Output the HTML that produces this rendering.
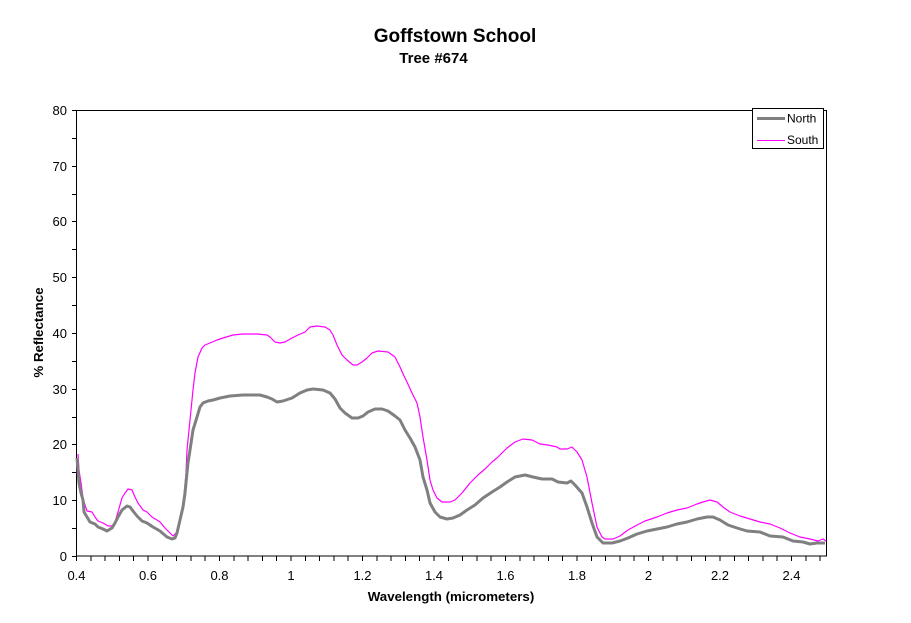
<!DOCTYPE html>
<html>
<head>
<meta charset="utf-8">
<style>
html,body{margin:0;padding:0;background:#fff;}
svg{display:block;}
text{font-family:"Liberation Sans",Arial,sans-serif;fill:#000;}
</style>
</head>
<body>
<svg width="911" height="623" viewBox="0 0 911 623" xmlns="http://www.w3.org/2000/svg">
<rect x="0" y="0" width="911" height="623" fill="#fff"/>
<text x="455" y="42" font-size="19" font-weight="bold" text-anchor="middle">Goffstown School</text>
<text x="433.5" y="63" font-size="15" font-weight="bold" text-anchor="middle">Tree #674</text>
<rect x="76.5" y="110.5" width="750" height="445.5" fill="none" stroke="#000" stroke-width="1" shape-rendering="crispEdges"/>
<path shape-rendering="crispEdges" stroke="#000" stroke-width="1" fill="none" d="M72 110.5h4M72 138.5h4M72 166.5h4M72 194.5h4M72 221.5h4M72 249.5h4M72 277.5h4M72 305.5h4M72 333.5h4M72 361.5h4M72 389.5h4M72 417.5h4M72 444.5h4M72 472.5h4M72 500.5h4M72 528.5h4M72 556.5h4"/>
<path shape-rendering="crispEdges" stroke="#000" stroke-width="1" fill="none" d="M76.5 556v5M90.8 556v5M105.1 556v5M119.4 556v5M133.7 556v5M148 556v5M162.3 556v5M176.6 556v5M190.9 556v5M205.2 556v5M219.5 556v5M233.8 556v5M248.1 556v5M262.4 556v5M276.7 556v5M291 556v5M305.3 556v5M319.6 556v5M333.9 556v5M348.2 556v5M362.5 556v5M376.8 556v5M391.1 556v5M405.4 556v5M419.7 556v5M434 556v5M448.3 556v5M462.6 556v5M476.9 556v5M491.2 556v5M505.5 556v5M519.8 556v5M534.1 556v5M548.4 556v5M562.7 556v5M577 556v5M591.3 556v5M605.6 556v5M619.9 556v5M634.2 556v5M648.5 556v5M662.8 556v5M677.1 556v5M691.4 556v5M705.7 556v5M720 556v5M734.3 556v5M748.6 556v5M762.9 556v5M777.2 556v5M791.5 556v5M805.8 556v5M820.1 556v5"/>
<g font-size="13" text-anchor="end">
<text x="67" y="115">80</text>
<text x="67" y="171">70</text>
<text x="67" y="226">60</text>
<text x="67" y="282">50</text>
<text x="67" y="338">40</text>
<text x="67" y="394">30</text>
<text x="67" y="449">20</text>
<text x="67" y="505">10</text>
<text x="67" y="561">0</text>
</g>
<g font-size="13" text-anchor="middle">
<text x="76.5" y="580">0.4</text>
<text x="148" y="580">0.6</text>
<text x="219.5" y="580">0.8</text>
<text x="291" y="580">1</text>
<text x="362.5" y="580">1.2</text>
<text x="434" y="580">1.4</text>
<text x="505.5" y="580">1.6</text>
<text x="577" y="580">1.8</text>
<text x="648.5" y="580">2</text>
<text x="720" y="580">2.2</text>
<text x="791.5" y="580">2.4</text>
</g>
<text x="451" y="601" font-size="13.3" font-weight="bold" text-anchor="middle">Wavelength (micrometers)</text>
<text transform="translate(43,332.5) rotate(-90)" x="0" y="0" font-size="13.3" font-weight="bold" text-anchor="middle">% Reflectance</text>
<polyline fill="none" stroke="#ff00ff" stroke-width="1.2" stroke-linejoin="round" points="78,454 79,470 81,483 83,498 85,505 87,511 92,512 95,517 98,521 103,523 108,526 112,526 115,522 118,512 122,498 125,493 128,489 132,490 135,497 138,503 143,510 147,512 152,517 157,520 160,522 165,528 170,533 173,536 177,532 180,522 183,507 186,473 187,450 190,420 193,390 195,373 198,357 202,348 205,345 210,343 217,340 223,338 233,335 243,334 257,334 267,335 270,337 275,342 280,343 285,342 292,338 298,335 305,332 310,327 317,326 325,327 330,330 333,335 337,345 342,355 347,360 353,365 357,365 362,362 367,358 372,353 378,351 388,352 395,357 400,367 404,376 407,382 412,393 417,403 420,417 423,437 427,460 430,480 433,490 437,498 442,502 450,502 455,500 462,493 470,483 478,475 485,469 492,462 497,458 507,448 515,442 523,439 532,440 540,444 548,445 557,447 560,449 567,449 572,447 577,452 582,460 587,477 592,503 597,527 602,537 605,539 613,539 620,536 628,530 637,525 645,521 657,517 667,513 677,510 687,508 697,504 703,502 710,500 717,502 723,507 730,512 740,516 750,519 760,522 770,524 780,528 790,533 800,537 810,539 818,541 823,539 826,541"/>
<polyline fill="none" stroke="#808080" stroke-width="3" stroke-linejoin="round" points="77,458 79,483 81,493 83,500 84,512 87,517 90,522 95,524 98,527 103,529 107,531 112,528 115,523 118,517 122,510 127,506 130,507 133,511 137,516 142,521 147,523 153,527 160,531 167,537 172,539 175,538 177,533 180,520 183,507 185,493 188,463 190,450 193,430 197,417 200,407 203,403 208,401 213,400 220,398 230,396 243,395 260,395 267,397 272,399 277,402 283,401 292,398 300,393 307,390 313,389 323,390 330,393 335,399 340,408 345,413 352,418 358,418 363,416 368,412 375,409 382,409 388,411 395,416 400,420 405,430 410,438 415,447 420,460 423,477 427,490 430,503 435,512 440,517 447,519 453,518 460,515 467,510 475,505 483,498 492,492 500,487 507,482 515,477 525,475 533,477 542,479 552,479 558,482 567,483 571,481 575,485 582,493 587,507 592,523 597,537 603,543 612,543 620,541 628,538 637,534 647,531 657,529 667,527 677,524 687,522 697,519 707,517 713,517 720,520 728,525 737,528 747,531 760,532 770,536 783,537 793,541 803,542 810,544 817,543 825,543"/>
<rect x="752.5" y="108.5" width="71" height="40" fill="#fff" stroke="#000" stroke-width="1" shape-rendering="crispEdges"/>
<line x1="757" y1="118.5" x2="785" y2="118.5" stroke="#808080" stroke-width="3"/>
<line x1="757" y1="140.5" x2="785" y2="140.5" stroke="#ff00ff" stroke-width="1" shape-rendering="crispEdges"/>
<text x="787" y="122.5" font-size="12">North</text>
<text x="787" y="144" font-size="12">South</text>
</svg>
</body>
</html>
